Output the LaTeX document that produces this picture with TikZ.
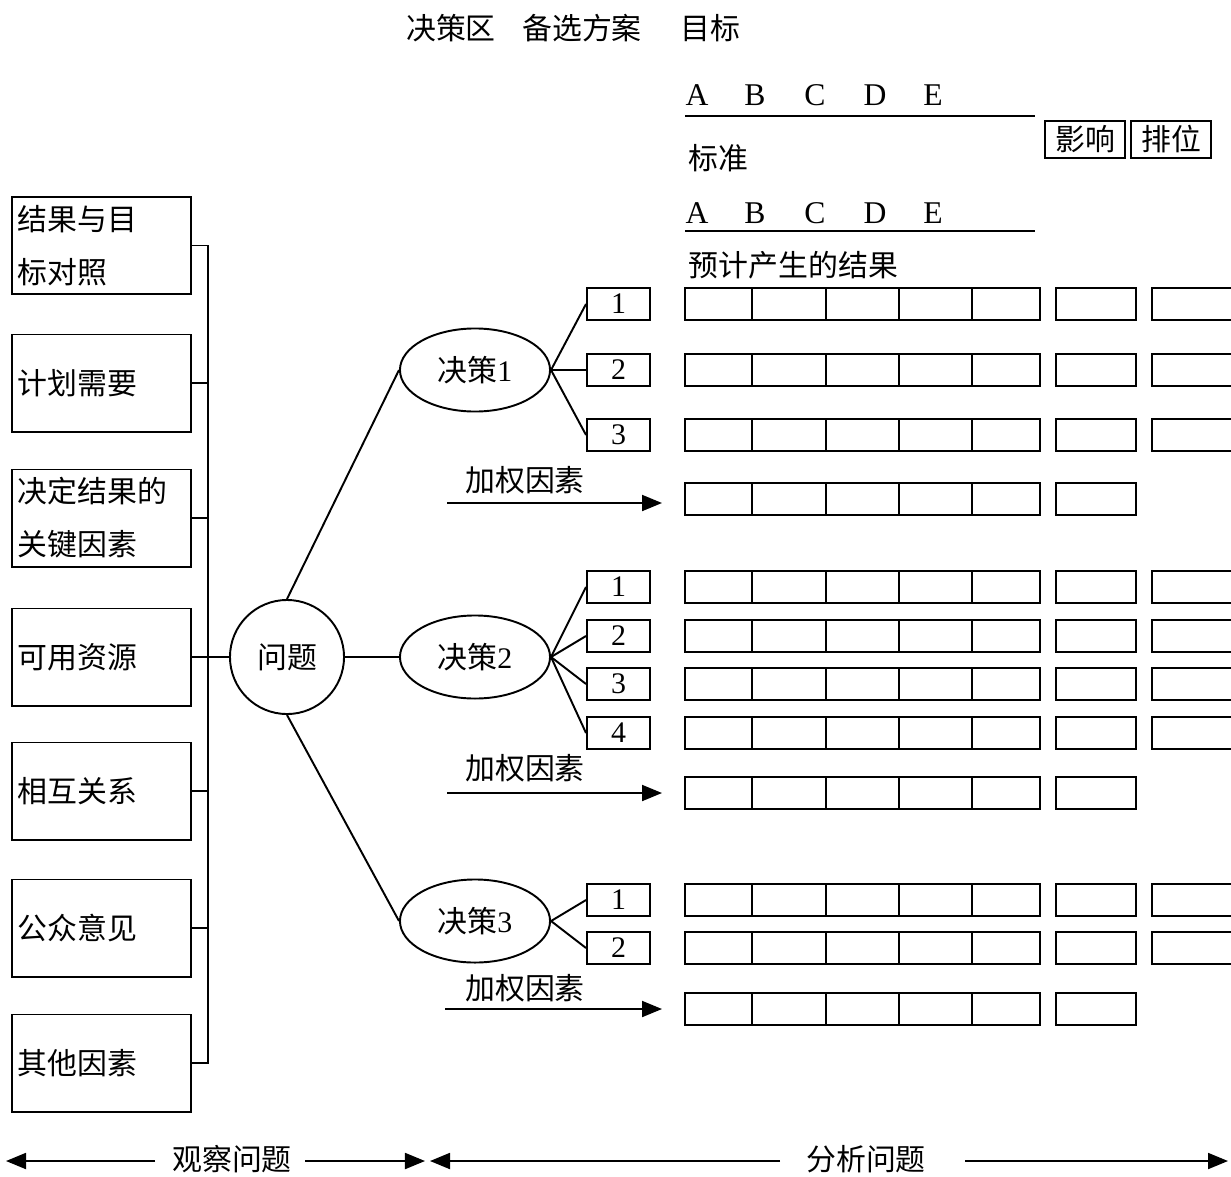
\documentclass[tikz,border=0pt]{standalone}
\usepackage{fontspec}
\setmainfont{Liberation Serif}
\newfontfamily\cjk{Noto Sans CJK SC}
\usetikzlibrary{shapes.geometric,arrows.meta}
\begin{document}
\begin{tikzpicture}[x=0.01cm,y=-0.01cm,line width=0.55pt,
  every node/.style={font=\fontsize{8.5}{10}\selectfont},
  cn/.style={font=\cjk\fontsize{8.5}{10}\selectfont},
  lbox/.style={draw,text width=1.67cm,inner xsep=0.06cm,inner ysep=0pt,minimum height=0.97cm,align=left,font=\cjk\fontsize{8.5}{15.1}\selectfont},
  ell/.style={draw,ellipse,minimum width=1.5cm,minimum height=0.83cm,inner sep=0pt},
  nbox/.style={draw,minimum width=0.63cm,minimum height=0.32cm,inner sep=0pt},
  hbox/.style={draw,minimum width=0.8cm,minimum height=0.37cm,inner sep=0pt,font=\cjk\fontsize{8.5}{10}\selectfont},
  tip/.style={-{Triangle[length=0.2cm,width=0.16cm]}}]
\useasboundingbox (0,0) rectangle (1231,1176);
\clip (0,0) rectangle (1231,1176);
% header
\node[cn] (h1) at (451,28) {决策区};
\node[cn] (h2) at (582,28) {备选方案};
\node[cn] (h3) at (710,28) {目标};
\foreach \L/\X in {A/697,B/755,C/815,D/875,E/933}{
  \node[font=\fontsize{9}{10}\selectfont] (ta\L) at (\X,95) {\L};
  \node[font=\fontsize{9}{10}\selectfont] (tb\L) at (\X,213) {\L};
}
\coordinate (u1a) at (685,116); \coordinate (u1b) at (1035,116);
\coordinate (u2a) at (685,231); \coordinate (u2b) at (1035,231);
\draw (u1a) -- (u1b);
\draw (u2a) -- (u2b);
\node[cn,anchor=west,inner sep=0pt] (bz) at (688,158) {标准};
\node[cn,anchor=west,inner sep=0pt] (yj) at (688,265) {预计产生的结果};
\node[hbox] (yx) at (1085,139.5) {影响};
\node[hbox] (pw) at (1171,139.5) {排位};
% result rows
\foreach \yy/\full in {288/1,354/1,419/1,483/0,571/1,620/1,668/1,717/1,777/0,884/1,932/1,993/0}{
  \draw (685,\yy) rectangle (1040,\yy+32);
  \foreach \xx in {752,826,899,972}{\draw (\xx,\yy) -- (\xx,\yy+32);}
  \draw (1056,\yy) rectangle (1136,\yy+32);
  \ifnum\full=1 \draw (1152,\yy) rectangle (1260,\yy+32);\fi
}
% left boxes
\node[lbox] (l1) at (101.5,245.5) {结果与目\\标对照};
\node[lbox] (l2) at (101.5,383) {计划需要};
\node[lbox] (l3) at (101.5,518) {决定结果的\\关键因素};
\node[lbox] (l4) at (101.5,657) {可用资源};
\node[lbox] (l5) at (101.5,791) {相互关系};
\node[lbox] (l6) at (101.5,928) {公众意见};
\node[lbox] (l7) at (101.5,1063) {其他因素};
\coordinate (bt) at (208,245.5);
\coordinate (bb) at (208,1063);
\draw (l1.east) -- (bt) -- (bb) -- (l7.east);
\foreach \k in {2,3,5,6}{\draw (l\k.east) -- (l\k.east -| bt);}
% problem circle
\node[draw,circle,minimum size=1.14cm,inner sep=0pt,cn] (q) at (287,657) {问题};
\draw (l4.east) -- (q.west);
% decisions
\node[ell] (e1) at (475,370) {{\cjk 决策}1};
\node[ell] (e2) at (475,657) {{\cjk 决策}2};
\node[ell] (e3) at (475,921) {{\cjk 决策}3};
\draw (q.north) -- (e1.west);
\draw (q.east) -- (e2.west);
\draw (q.south) -- (e3.west);
% numbered boxes
\node[nbox] (a1) at (618.5,304) {1};
\node[nbox] (a2) at (618.5,370) {2};
\node[nbox] (a3) at (618.5,435) {3};
\node[nbox] (b1) at (618.5,587) {1};
\node[nbox] (b2) at (618.5,636) {2};
\node[nbox] (b3) at (618.5,684) {3};
\node[nbox] (b4) at (618.5,733) {4};
\node[nbox] (c1) at (618.5,900) {1};
\node[nbox] (c2) at (618.5,948) {2};
\foreach \k in {1,2,3}{\draw (e1.east) -- (a\k.west);}
\foreach \k in {1,2,3,4}{\draw (e2.east) -- (b\k.west);}
\foreach \k in {1,2}{\draw (e3.east) -- (c\k.west);}
% weight arrows
\node[cn] (w1) at (525,480) {加权因素};
\node[cn] (w2) at (525,768) {加权因素};
\node[cn] (w3) at (525,988) {加权因素};
\coordinate (w1a) at (447,503); \coordinate (w1b) at (662,503);
\coordinate (w2a) at (447,793); \coordinate (w2b) at (662,793);
\coordinate (w3a) at (445,1009); \coordinate (w3b) at (662,1009);
\draw[tip] (w1a) -- (w1b);
\draw[tip] (w2a) -- (w2b);
\draw[tip] (w3a) -- (w3b);
% bottom
\node[cn] (gc) at (232,1159) {观察问题};
\node[cn] (fx) at (866,1159) {分析问题};
\coordinate (g1a) at (155,1161); \coordinate (g1b) at (6,1161);
\coordinate (g2a) at (305,1161); \coordinate (g2b) at (425,1161);
\coordinate (f1a) at (780,1161); \coordinate (f1b) at (430,1161);
\coordinate (f2a) at (965,1161); \coordinate (f2b) at (1228,1161);
\draw[tip] (g1a) -- (g1b);
\draw[tip] (g2a) -- (g2b);
\draw[tip] (f1a) -- (f1b);
\draw[tip] (f2a) -- (f2b);
\end{tikzpicture}
\end{document}
